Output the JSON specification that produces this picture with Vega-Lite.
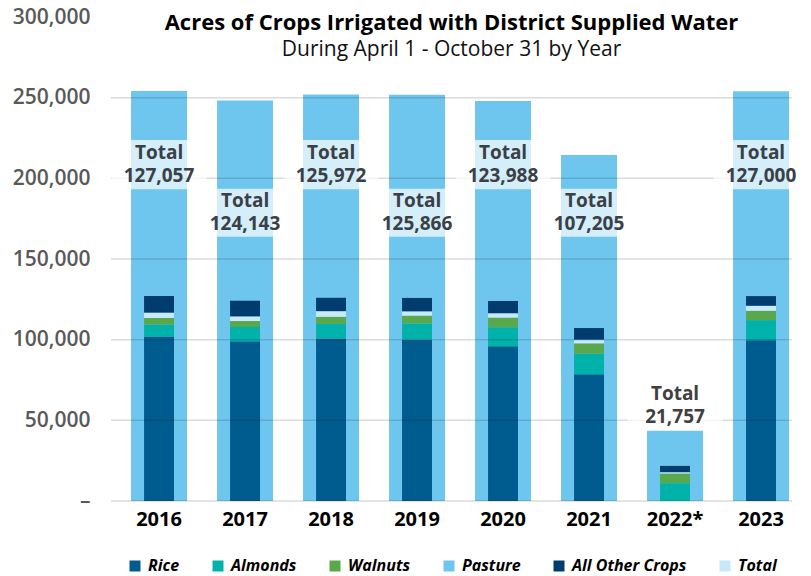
{
  "$schema": "https://vega.github.io/schema/vega-lite/v6.json",
  "width": 681,
  "height": 484,
  "autosize": {"type": "none"},
  "padding": {"left": 111, "top": 17, "right": 19, "bottom": 75},
  "background": "white",
  "config": {
    "font": "Open Sans",
    "view": {"stroke": null},
    "title": {"font": "Open Sans"},
    "axis": {"labelFont": "Open Sans"},
    "legend": {"labelFont": "Open Sans"}
  },
  "title": {
    "text": "Acres of Crops Irrigated with District Supplied Water",
    "subtitle": "During April 1 - October 31 by Year",
    "anchor": "middle",
    "frame": "group",
    "offset": -55,
    "fontSize": 22,
    "fontWeight": "bold",
    "color": "#000000",
    "subtitleFontSize": 21,
    "subtitleFont": "Open Sans",
    "subtitleColor": "#111111",
    "subtitlePadding": 4
  },
  "datasets": {
    "crops": [
      {"year": "2016", "crop": "Rice", "acres": 101957},
      {"year": "2016", "crop": "Almonds", "acres": 7400},
      {"year": "2016", "crop": "Walnuts", "acres": 4100},
      {"year": "2016", "crop": "Pasture", "acres": 3300},
      {"year": "2016", "crop": "All Other Crops", "acres": 10300},
      {"year": "2017", "crop": "Rice", "acres": 98943},
      {"year": "2017", "crop": "Almonds", "acres": 8900},
      {"year": "2017", "crop": "Walnuts", "acres": 3700},
      {"year": "2017", "crop": "Pasture", "acres": 2900},
      {"year": "2017", "crop": "All Other Crops", "acres": 9700},
      {"year": "2018", "crop": "Rice", "acres": 100772},
      {"year": "2018", "crop": "Almonds", "acres": 8900},
      {"year": "2018", "crop": "Walnuts", "acres": 4500},
      {"year": "2018", "crop": "Pasture", "acres": 3500},
      {"year": "2018", "crop": "All Other Crops", "acres": 8300},
      {"year": "2019", "crop": "Rice", "acres": 99966},
      {"year": "2019", "crop": "Almonds", "acres": 10100},
      {"year": "2019", "crop": "Walnuts", "acres": 4800},
      {"year": "2019", "crop": "Pasture", "acres": 2700},
      {"year": "2019", "crop": "All Other Crops", "acres": 8300},
      {"year": "2020", "crop": "Rice", "acres": 95888},
      {"year": "2020", "crop": "Almonds", "acres": 11800},
      {"year": "2020", "crop": "Walnuts", "acres": 6000},
      {"year": "2020", "crop": "Pasture", "acres": 2700},
      {"year": "2020", "crop": "All Other Crops", "acres": 7600},
      {"year": "2021", "crop": "Rice", "acres": 78505},
      {"year": "2021", "crop": "Almonds", "acres": 12800},
      {"year": "2021", "crop": "Walnuts", "acres": 6400},
      {"year": "2021", "crop": "Pasture", "acres": 2300},
      {"year": "2021", "crop": "All Other Crops", "acres": 7200},
      {"year": "2022*", "crop": "Rice", "acres": 0},
      {"year": "2022*", "crop": "Almonds", "acres": 11057},
      {"year": "2022*", "crop": "Walnuts", "acres": 6000},
      {"year": "2022*", "crop": "Pasture", "acres": 800},
      {"year": "2022*", "crop": "All Other Crops", "acres": 3900},
      {"year": "2023", "crop": "Rice", "acres": 99700},
      {"year": "2023", "crop": "Almonds", "acres": 12400},
      {"year": "2023", "crop": "Walnuts", "acres": 5800},
      {"year": "2023", "crop": "Pasture", "acres": 3100},
      {"year": "2023", "crop": "All Other Crops", "acres": 6000}
    ],
    "totals": [
      {"year": "2016", "total": 127057, "outer": 254114},
      {"year": "2017", "total": 124143, "outer": 248286},
      {"year": "2018", "total": 125972, "outer": 251944},
      {"year": "2019", "total": 125866, "outer": 251732},
      {"year": "2020", "total": 123988, "outer": 247976},
      {"year": "2021", "total": 107205, "outer": 214410},
      {"year": "2022*", "total": 21757, "outer": 43514},
      {"year": "2023", "total": 127000, "outer": 254000}
    ],
    "ticks": [
      {"tick": 0}, {"tick": 50000}, {"tick": 100000}, {"tick": 150000}, {"tick": 200000}, {"tick": 250000}
    ]
  },
  "layer": [
    {
      "data": {"name": "totals"},
      "mark": {"type": "bar", "color": "#6ec6ef"},
      "encoding": {
        "x": {
          "field": "year", "type": "ordinal",
          "scale": {"domain": ["2016", "2017", "2018", "2019", "2020", "2021", "2022*", "2023"], "paddingInner": 0.349, "paddingOuter": 0.134, "align": 0.87},
          "axis": {"title": null, "domain": false, "ticks": false, "labelAngle": 0, "labelFontSize": 20, "labelFontWeight": "bold", "labelColor": "#000000", "labelPadding": 8}
        },
        "y": {
          "field": "outer", "type": "quantitative",
          "scale": {"domain": [0, 300000], "nice": false},
          "axis": {"title": null, "grid": false, "domain": false, "ticks": false, "values": [0, 50000, 100000, 150000, 200000, 250000, 300000], "labelExpr": "datum.value == 0 ? '–' : format(datum.value, ',')", "labelFontSize": 21, "labelFontWeight": 600, "labelColor": "#595959", "labelPadding": 21}
        }
      }
    },
    {
      "data": {"name": "crops"},
      "transform": [{"calculate": "indexof(['Rice', 'Almonds', 'Walnuts', 'Pasture', 'All Other Crops'], datum.crop)", "as": "stackIndex"}],
      "mark": {"type": "bar", "width": {"band": 0.535}},
      "encoding": {
        "x": {"field": "year", "type": "ordinal"},
        "y": {"aggregate": "sum", "field": "acres", "type": "quantitative", "stack": "zero"},
        "order": {"field": "stackIndex", "type": "quantitative", "sort": "ascending"},
        "color": {
          "condition": {"test": "datum.crop === 'Pasture'", "value": "#c8e9f9"},
          "field": "crop", "type": "nominal",
          "sort": ["Rice", "Almonds", "Walnuts", "Pasture", "All Other Crops", "Total"],
          "scale": {"domain": ["Rice", "Almonds", "Walnuts", "Pasture", "All Other Crops", "Total"], "range": ["#005b8f", "#00b2a9", "#59a84b", "#6ec6ef", "#003d6e", "#c8e8f8"]},
          "legend": {"title": null, "orient": "none", "legendX": 16, "legendY": 541, "direction": "horizontal", "symbolType": "square", "symbolSize": 121, "symbolStrokeWidth": 0, "labelFontSize": 16, "labelFontStyle": "italic", "labelFontWeight": "bold", "labelColor": "#000000", "labelOffset": 5, "columnPadding": 30}
        }
      }
    },
    {
      "data": {"name": "ticks"},
      "mark": {"type": "rule", "color": "#000000", "opacity": 0.14, "strokeWidth": 1.5},
      "encoding": {"y": {"field": "tick", "type": "quantitative"}}
    },
    {
      "data": {"name": "totals"},
      "transform": [
        {"filter": {"field": "year", "oneOf": ["2016", "2018", "2020", "2023"]}},
        {"calculate": "'Total\\n' + format(datum.total, ',')", "as": "label"}
      ],
      "layer": [
        {
          "mark": {"type": "bar", "width": 95, "color": "#ffffff", "opacity": 0.7},
          "encoding": {"x": {"field": "year", "type": "ordinal"}, "y": {"datum": 223760}, "y2": {"datum": 193200}}
        },
        {
          "mark": {"type": "text", "dy": -11.5, "fontSize": 19, "fontWeight": "bold", "color": "#3a4046", "baseline": "middle", "lineBreak": "\n", "lineHeight": 23},
          "encoding": {"x": {"field": "year", "type": "ordinal"}, "y": {"datum": 208450}, "text": {"field": "label"}}
        }
      ]
    },
    {
      "data": {"name": "totals"},
      "transform": [
        {"filter": {"field": "year", "oneOf": ["2017", "2019", "2021"]}},
        {"calculate": "'Total\\n' + format(datum.total, ',')", "as": "label"}
      ],
      "layer": [
        {
          "mark": {"type": "bar", "width": 95, "color": "#ffffff", "opacity": 0.7},
          "encoding": {"x": {"field": "year", "type": "ordinal"}, "y": {"datum": 193570}, "y2": {"datum": 163820}}
        },
        {
          "mark": {"type": "text", "dy": -11.5, "fontSize": 19, "fontWeight": "bold", "color": "#3a4046", "baseline": "middle", "lineBreak": "\n", "lineHeight": 23},
          "encoding": {"x": {"field": "year", "type": "ordinal"}, "y": {"datum": 178700}, "text": {"field": "label"}}
        }
      ]
    },
    {
      "data": {"name": "totals"},
      "transform": [
        {"filter": {"field": "year", "equal": "2022*"}},
        {"calculate": "'Total\\n' + format(datum.total, ',')", "as": "label"}
      ],
      "layer": [
        {
          "mark": {"type": "bar", "width": 95, "color": "#ffffff", "opacity": 0.7},
          "encoding": {"x": {"field": "year", "type": "ordinal"}, "y": {"datum": 74380}, "y2": {"datum": 44630}}
        },
        {
          "mark": {"type": "text", "dy": -11.5, "fontSize": 19, "fontWeight": "bold", "color": "#404040", "baseline": "middle", "lineBreak": "\n", "lineHeight": 23},
          "encoding": {"x": {"field": "year", "type": "ordinal"}, "y": {"datum": 59500}, "text": {"field": "label"}}
        }
      ]
    }
  ]
}
